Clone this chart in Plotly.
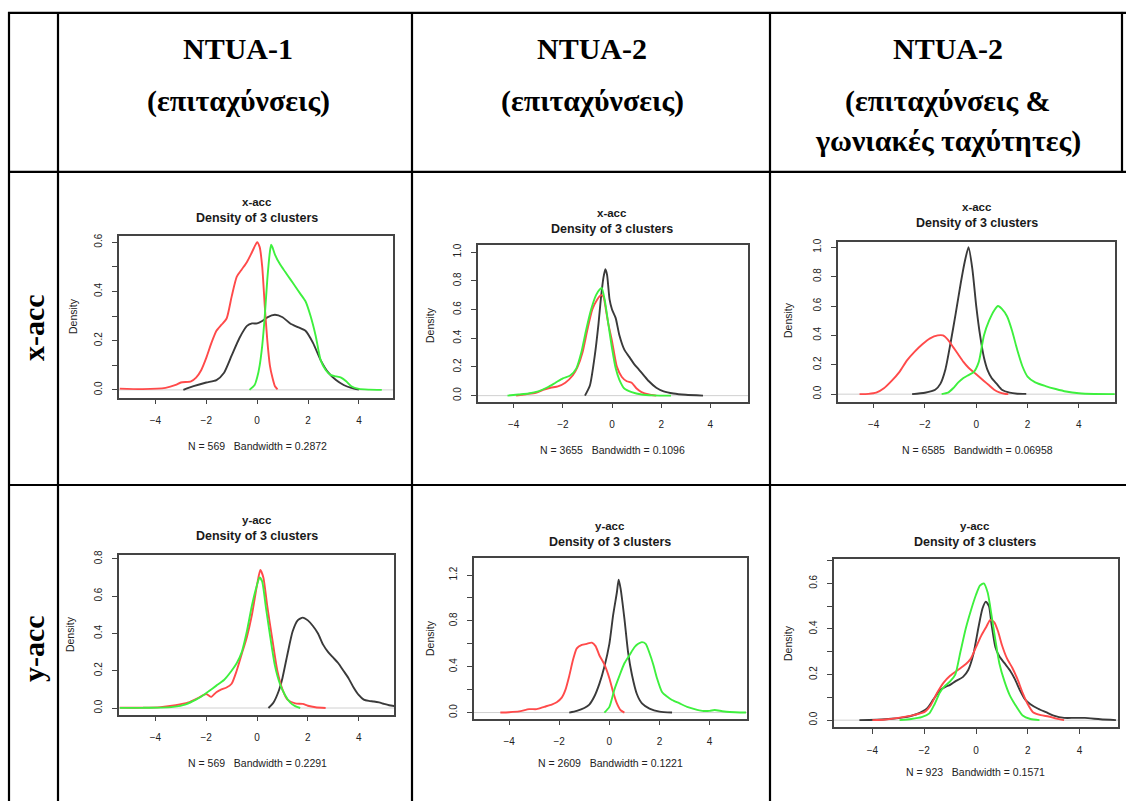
import plotly.graph_objects as go

W, H = 1126, 801

# ---------------- header / labels ----------------
col_headers = [
    ["NTUA-1", "(επιταχύνσεις)"],
    ["NTUA-2", "(επιταχύνσεις)"],
    ["NTUA-2", "(επιταχύνσεις &", "γωνιακές ταχύτητες)"],
]
row_labels = ["x-acc", "y-acc"]
panel_titles = ["x-acc", "x-acc", "x-acc", "y-acc", "y-acc", "y-acc"]
panel_subs = [
    "N = 569   Bandwidth = 0.2872",
    "N = 3655   Bandwidth = 0.1096",
    "N = 6585   Bandwidth = 0.06958",
    "N = 569   Bandwidth = 0.2291",
    "N = 2609   Bandwidth = 0.1221",
    "N = 923   Bandwidth = 0.1571",
]
x_ticks = [-4, -2, 0, 2, 4]
y_tickvals = [
    [0, 0.1, 0.2, 0.3, 0.4, 0.5, 0.6],
    [0, 0.2, 0.4, 0.6, 0.8, 1.0],
    [0, 0.2, 0.4, 0.6, 0.8, 1.0],
    [0, 0.2, 0.4, 0.6, 0.8],
    [0, 0.2, 0.4, 0.6, 0.8, 1.0, 1.2],
    [0, 0.1, 0.2, 0.3, 0.4, 0.5, 0.6, 0.7],
]
y_ticktext = [
    ["0.0", "", "0.2", "", "0.4", "", "0.6"],
    ["0.0", "0.2", "0.4", "0.6", "0.8", "1.0"],
    ["0.0", "0.2", "0.4", "0.6", "0.8", "1.0"],
    ["0.0", "0.2", "0.4", "0.6", "0.8"],
    ["0.0", "", "0.4", "", "0.8", "", "1.2"],
    ["0.0", "", "0.2", "", "0.4", "", "0.6", ""],
]

# ---------------- density data ----------------
# Panel 1: NTUA-1 x-acc
p1_red_x = [-5.4, -4.5, -3.6, -3.2, -3.0, -2.6, -2.4, -2.2, -2.0, -1.8, -1.6, -1.4, -1.2, -1.0, -0.8, -0.6, -0.4, -0.2, 0.0, 0.1, 0.2, 0.3, 0.4, 0.5, 0.6, 0.7, 0.8]
p1_red_y = [0.005, 0.003, 0.008, 0.02, 0.03, 0.035, 0.05, 0.08, 0.13, 0.19, 0.24, 0.265, 0.29, 0.38, 0.46, 0.49, 0.52, 0.56, 0.6, 0.58, 0.5, 0.34, 0.2, 0.1, 0.05, 0.015, 0.002]
p1_black_x = [-2.9, -2.5, -2.0, -1.6, -1.3, -1.0, -0.7, -0.4, -0.2, 0.0, 0.2, 0.4, 0.7, 1.0, 1.3, 1.6, 1.9, 2.2, 2.5, 2.8, 3.1, 3.4, 3.7, 4.0]
p1_black_y = [0.0, 0.015, 0.03, 0.04, 0.07, 0.14, 0.21, 0.26, 0.27, 0.27, 0.28, 0.295, 0.305, 0.295, 0.27, 0.255, 0.24, 0.19, 0.12, 0.07, 0.04, 0.02, 0.008, 0.001]
p1_green_x = [-0.3, -0.1, 0.0, 0.1, 0.2, 0.3, 0.4, 0.5, 0.55, 0.6, 0.7, 0.9, 1.1, 1.3, 1.5, 1.7, 1.9, 2.1, 2.3, 2.5, 2.7, 2.9, 3.1, 3.3, 3.5, 3.7, 4.0, 4.4, 4.9]
p1_green_y = [0.0, 0.02, 0.05, 0.1, 0.18, 0.3, 0.45, 0.56, 0.59, 0.58, 0.55, 0.51, 0.48, 0.45, 0.42, 0.39, 0.36, 0.3, 0.22, 0.12, 0.08, 0.06, 0.055, 0.05, 0.035, 0.015, 0.004, 0.001, 0.0]

# Panel 2: NTUA-2 x-acc
p2_red_x = [-3.9, -3.5, -3.1, -2.8, -2.5, -2.2, -1.9, -1.6, -1.4, -1.2, -1.0, -0.8, -0.6, -0.45, -0.35, -0.25, -0.15, 0.0, 0.2, 0.4, 0.6, 0.8, 1.0, 1.2, 1.5, 1.8]
p2_red_y = [0.0, 0.01, 0.02, 0.04, 0.055, 0.065, 0.09, 0.14, 0.2, 0.3, 0.46, 0.6, 0.67, 0.7, 0.69, 0.6, 0.5, 0.38, 0.2, 0.13, 0.1, 0.09, 0.05, 0.025, 0.008, 0.0]
p2_black_x = [-1.1, -0.9, -0.7, -0.55, -0.45, -0.35, -0.27, -0.2, -0.1, 0.0, 0.15, 0.3, 0.5, 0.7, 0.9, 1.1, 1.3, 1.5, 1.8, 2.1, 2.5, 3.0, 3.7]
p2_black_y = [0.0, 0.07, 0.28, 0.5, 0.68, 0.82, 0.88, 0.84, 0.67, 0.6, 0.54, 0.42, 0.32, 0.27, 0.22, 0.18, 0.14, 0.1, 0.055, 0.03, 0.015, 0.006, 0.0]
p2_green_x = [-4.25, -3.8, -3.4, -3.0, -2.6, -2.3, -2.0, -1.7, -1.45, -1.25, -1.05, -0.85, -0.65, -0.5, -0.42, -0.3, -0.15, 0.0, 0.15, 0.3, 0.5, 0.8, 1.2, 1.7, 2.4]
p2_green_y = [0.0, 0.008, 0.015, 0.03, 0.06, 0.09, 0.12, 0.14, 0.19, 0.3, 0.46, 0.6, 0.7, 0.74, 0.75, 0.67, 0.5, 0.33, 0.19, 0.11, 0.05, 0.025, 0.008, 0.002, 0.0]

# Panel 3: NTUA-2 (acc & gyro) x-acc
p3_red_x = [-4.55, -4.2, -3.9, -3.6, -3.3, -3.0, -2.7, -2.4, -2.1, -1.8, -1.5, -1.3, -1.1, -0.9, -0.7, -0.5, -0.3, -0.1, 0.1, 0.3, 0.5, 0.7, 0.9, 1.1, 1.25]
p3_red_y = [0.0, 0.002, 0.01, 0.04, 0.09, 0.15, 0.23, 0.29, 0.34, 0.38, 0.4, 0.4, 0.37, 0.32, 0.27, 0.22, 0.18, 0.15, 0.12, 0.09, 0.06, 0.03, 0.012, 0.003, 0.0]
p3_black_x = [-2.5, -2.0, -1.6, -1.4, -1.2, -1.0, -0.8, -0.6, -0.45, -0.3, -0.15, 0.0, 0.15, 0.3, 0.45, 0.6, 0.8, 1.0, 1.3, 1.6, 1.95]
p3_black_y = [0.0, 0.01, 0.03, 0.07, 0.17, 0.35, 0.55, 0.76, 0.9, 1.0, 0.85, 0.6, 0.4, 0.25, 0.16, 0.11, 0.07, 0.03, 0.01, 0.003, 0.002]
p3_green_x = [-1.35, -1.1, -0.9, -0.7, -0.5, -0.3, -0.1, 0.1, 0.3, 0.5, 0.7, 0.85, 1.0, 1.2, 1.4, 1.6, 1.8, 2.0, 2.3, 2.7, 3.1, 3.5, 4.0, 4.6, 5.4]
p3_green_y = [0.0, 0.01, 0.04, 0.08, 0.11, 0.13, 0.15, 0.22, 0.4, 0.5, 0.57, 0.6, 0.58, 0.53, 0.43, 0.3, 0.19, 0.12, 0.08, 0.055, 0.035, 0.018, 0.006, 0.001, 0.0]

# Panel 4: NTUA-1 y-acc
p4_red_x = [-5.4, -4.5, -3.8, -3.2, -2.7, -2.3, -2.0, -1.8, -1.6, -1.4, -1.2, -1.0, -0.8, -0.6, -0.4, -0.2, 0.0, 0.13, 0.25, 0.4, 0.6, 0.8, 1.0, 1.2, 1.5, 1.8, 2.0, 2.3, 2.7]
p4_red_y = [0.002, 0.002, 0.005, 0.015, 0.03, 0.055, 0.075, 0.06, 0.085, 0.1, 0.11, 0.13, 0.2, 0.29, 0.38, 0.5, 0.66, 0.74, 0.7, 0.55, 0.37, 0.2, 0.1, 0.045, 0.025, 0.022, 0.012, 0.004, 0.0]
p4_black_x = [0.45, 0.65, 0.85, 1.0, 1.2, 1.4, 1.6, 1.8, 2.0, 2.2, 2.4, 2.6, 2.8, 3.0, 3.2, 3.4, 3.6, 3.8, 4.0, 4.2, 4.4, 4.6, 4.8, 5.0, 5.2, 5.45]
p4_black_y = [0.0, 0.03, 0.09, 0.16, 0.29, 0.41, 0.47, 0.485, 0.47, 0.44, 0.4, 0.34, 0.3, 0.27, 0.24, 0.2, 0.16, 0.11, 0.07, 0.045, 0.038, 0.035, 0.03, 0.022, 0.015, 0.01]
p4_green_x = [-5.4, -4.5, -3.8, -3.3, -2.8, -2.4, -2.1, -1.9, -1.6, -1.3, -1.0, -0.8, -0.6, -0.4, -0.2, 0.0, 0.1, 0.2, 0.35, 0.5, 0.7, 0.9, 1.1, 1.3, 1.5, 1.7]
p4_green_y = [0.001, 0.001, 0.002, 0.006, 0.02, 0.045, 0.07, 0.09, 0.12, 0.15, 0.2, 0.24, 0.3, 0.41, 0.55, 0.66, 0.7, 0.68, 0.54, 0.4, 0.23, 0.13, 0.07, 0.03, 0.01, 0.0]

# Panel 5: NTUA-2 y-acc
p5_red_x = [-4.35, -4.0, -3.6, -3.2, -2.9, -2.6, -2.3, -2.1, -1.9, -1.75, -1.6, -1.45, -1.3, -1.1, -0.9, -0.7, -0.55, -0.4, -0.2, 0.0, 0.15, 0.3, 0.45, 0.6]
p5_red_y = [0.0, 0.003, 0.01, 0.03, 0.03, 0.05, 0.07, 0.09, 0.13, 0.2, 0.32, 0.46, 0.56, 0.59, 0.6, 0.61, 0.58, 0.5, 0.42, 0.3, 0.18, 0.08, 0.02, 0.0]
p5_black_x = [-1.6, -1.3, -1.0, -0.8, -0.6, -0.4, -0.2, 0.0, 0.15, 0.3, 0.37, 0.45, 0.6, 0.75, 0.9, 1.1, 1.3, 1.6, 2.0, 2.5]
p5_black_y = [0.0, 0.015, 0.04, 0.07, 0.14, 0.25, 0.4, 0.6, 0.85, 1.05, 1.16, 1.08, 0.82, 0.52, 0.33, 0.16, 0.08, 0.035, 0.008, 0.0]
p5_green_x = [-0.2, 0.0, 0.2, 0.4, 0.6, 0.8, 1.0, 1.15, 1.3, 1.45, 1.6, 1.75, 1.9, 2.1, 2.3, 2.5, 2.8, 3.1, 3.4, 3.7, 4.0, 4.2, 4.5, 4.8, 5.45]
p5_green_y = [0.0, 0.05, 0.2, 0.32, 0.43, 0.5, 0.57, 0.6, 0.615, 0.6, 0.52, 0.42, 0.3, 0.18, 0.14, 0.11, 0.08, 0.05, 0.03, 0.015, 0.015, 0.022, 0.012, 0.005, 0.0]

# Panel 6: NTUA-2 (acc & gyro) y-acc
p6_red_x = [-4.0, -3.5, -3.0, -2.5, -2.0, -1.75, -1.5, -1.25, -1.0, -0.7, -0.4, -0.2, 0.0, 0.2, 0.4, 0.55, 0.7, 0.85, 1.0, 1.2, 1.4, 1.6, 1.8, 2.0, 2.2, 2.5, 2.8, 3.1, 3.4]
p6_red_y = [0.0, 0.003, 0.01, 0.02, 0.035, 0.065, 0.12, 0.165, 0.195, 0.22, 0.245, 0.27, 0.32, 0.37, 0.41, 0.44, 0.43, 0.39, 0.33, 0.27, 0.23, 0.18, 0.12, 0.07, 0.035, 0.022, 0.016, 0.007, 0.0]
p6_black_x = [-4.5, -3.5, -2.8, -2.3, -1.9, -1.65, -1.4, -1.2, -1.0, -0.8, -0.5, -0.3, -0.1, 0.1, 0.25, 0.38, 0.5, 0.6, 0.75, 0.9, 1.1, 1.3, 1.5, 1.7, 1.9, 2.1, 2.4, 2.7, 3.0, 3.4, 3.8, 4.2, 4.8, 5.4]
p6_black_y = [0.0, 0.004, 0.012, 0.026, 0.05, 0.09, 0.13, 0.145, 0.155, 0.17, 0.19, 0.22, 0.29, 0.41, 0.49, 0.52, 0.5, 0.42, 0.32, 0.28, 0.25, 0.22, 0.18, 0.13, 0.09, 0.07, 0.05, 0.035, 0.02, 0.01, 0.01, 0.01, 0.004, 0.0]
p6_green_x = [-2.95, -2.5, -2.1, -1.8, -1.6, -1.4, -1.2, -1.0, -0.8, -0.6, -0.4, -0.2, 0.0, 0.15, 0.3, 0.45, 0.6, 0.75, 0.9, 1.1, 1.3, 1.5, 1.8, 2.1, 2.45]
p6_green_y = [0.0, 0.005, 0.013, 0.03, 0.07, 0.12, 0.15, 0.17, 0.2, 0.3, 0.4, 0.48, 0.55, 0.59, 0.6, 0.56, 0.46, 0.35, 0.25, 0.17, 0.11, 0.07, 0.02, 0.005, 0.0]

panels = [
    [(p1_black_x, p1_black_y), (p1_red_x, p1_red_y), (p1_green_x, p1_green_y)],
    [(p2_black_x, p2_black_y), (p2_red_x, p2_red_y), (p2_green_x, p2_green_y)],
    [(p3_black_x, p3_black_y), (p3_red_x, p3_red_y), (p3_green_x, p3_green_y)],
    [(p4_black_x, p4_black_y), (p4_red_x, p4_red_y), (p4_green_x, p4_green_y)],
    [(p5_black_x, p5_black_y), (p5_red_x, p5_red_y), (p5_green_x, p5_green_y)],
    [(p6_black_x, p6_black_y), (p6_red_x, p6_red_y), (p6_green_x, p6_green_y)],
]
series_colors = ["#3a3a3a", "#ff4a4a", "#3ef03e"]

# ---------------- layout geometry (pixels) ----------------
boxes = [  # x0, x1, y0(top), y1(bottom)
    (119, 393, 232, 395),
    (478, 748, 242, 399),
    (838, 1115, 238, 399),
    (119, 394, 553, 714),
    (474, 747, 556, 718),
    (834, 1118, 557, 727),
]
x_ranges = [(-5.43, 5.34), (-5.45, 5.53), (-5.39, 5.41), (-5.43, 5.39), (-5.40, 5.49), (-5.48, 5.48)]
y_ranges = [(-0.031, 0.627), (-0.041, 1.046), (-0.05, 1.039), (-0.035, 0.823), (-0.052, 1.353), (-0.032, 0.709)]
title_pos = [(257, 198), (612, 209), (977, 203), (257, 518), (610, 524), (975, 524)]
sub_pos = [(257, 444), (612, 448), (977, 448), (257, 763), (610, 763), (975, 772)]
ylab_pos = [(73, 313), (430, 322), (788, 317), (70, 633), (430, 637), (788, 642)]


def px(x):
    return x / W


def py(y):
    return 1 - y / H


fig = go.Figure()
annotations = []
shapes = []

for i, series in enumerate(panels):
    k = "" if i == 0 else str(i + 1)
    for (sx, sy), col in zip(series, series_colors):
        fig.add_trace(go.Scatter(
            x=sx, y=sy, mode="lines", xaxis="x" + k, yaxis="y" + k,
            line=dict(color=col, width=1.9, shape="spline", smoothing=0.6),
            showlegend=False, hoverinfo="skip"))
    x0, x1, yt, yb = boxes[i]
    axfont = dict(family="Liberation Sans, Arial, sans-serif", size=10, color="#222")
    fig.layout["xaxis" + k] = dict(
        domain=[px(x0), px(x1)], range=list(x_ranges[i]), anchor="y" + k,
        tickvals=x_ticks, ticks="outside", ticklen=5, tickwidth=1.2, tickcolor="#444",
        showline=True, linecolor="#444", linewidth=1.8, mirror=True,
        showgrid=False, zeroline=False, tickfont=axfont, ticklabelstandoff=8)
    fig.layout["yaxis" + k] = dict(
        domain=[py(yb), py(yt)], range=list(y_ranges[i]), anchor="x" + k,
        tickvals=y_tickvals[i], ticktext=y_ticktext[i], tickangle=-90,
        ticks="outside", ticklen=5, tickwidth=1.2, tickcolor="#444",
        showline=True, linecolor="#444", linewidth=1.8, mirror=True,
        showgrid=False, zeroline=False, tickfont=axfont, ticklabelstandoff=6)
    # zero reference line as in R's plot.density
    shapes.append(dict(type="line", xref="x" + k + " domain", yref="y" + k,
                       x0=0, x1=1, y0=0, y1=0, line=dict(color="#d0d0d0", width=1), layer="below"))
    tx, ty = title_pos[i]
    annotations.append(dict(x=px(tx), y=py(ty), xref="paper", yref="paper", showarrow=False,
                            text="<b>" + panel_titles[i] + "</b>", xanchor="center", yanchor="middle",
                            font=dict(family="Liberation Sans, Arial, sans-serif", size=11.5, color="#1a1a1a")))
    annotations.append(dict(x=px(tx), y=py(ty + 16), xref="paper", yref="paper", showarrow=False,
                            text="<b>Density of 3 clusters</b>", xanchor="center", yanchor="middle",
                            font=dict(family="Liberation Sans, Arial, sans-serif", size=12.5, color="#1a1a1a")))
    sx_, sy_ = sub_pos[i]
    annotations.append(dict(x=px(sx_), y=py(sy_), xref="paper", yref="paper", showarrow=False,
                            text=panel_subs[i], xanchor="center", yanchor="middle",
                            font=dict(family="Liberation Sans, Arial, sans-serif", size=10.5, color="#222")))
    lx, ly = ylab_pos[i]
    annotations.append(dict(x=px(lx), y=py(ly), xref="paper", yref="paper", showarrow=False,
                            text="Density", textangle=-90, xanchor="center", yanchor="middle",
                            font=dict(family="Liberation Sans, Arial, sans-serif", size=10.5, color="#222")))

# ---------------- table header text ----------------
serif = dict(family="Liberation Serif, Times New Roman, serif", size=30, color="#000")
col_centers = [238, 592, 948]
line_ys = [44, 97, 137]
for cx, lines in zip(col_centers, col_headers):
    for j, t in enumerate(lines):
        annotations.append(dict(x=px(cx), y=py(line_ys[j]), xref="paper", yref="paper", showarrow=False,
                                text="<b>" + t + "</b>", xanchor="center", yanchor="middle", font=serif))
for lab, cy in zip(row_labels, [325, 648]):
    annotations.append(dict(x=px(34), y=py(cy), xref="paper", yref="paper", showarrow=False,
                            text="<b>" + lab + "</b>", textangle=-90, xanchor="center", yanchor="middle",
                            font=serif))

# ---------------- table borders ----------------
def hline(y, x0, x1):
    shapes.append(dict(type="line", xref="paper", yref="paper", x0=px(x0), x1=px(x1), y0=py(y), y1=py(y),
                       line=dict(color="#000", width=2.2)))


def vline(x, y0, y1):
    shapes.append(dict(type="line", xref="paper", yref="paper", x0=px(x), x1=px(x), y0=py(y0), y1=py(y1),
                       line=dict(color="#000", width=2.2)))


hline(8, 8, 1126)
hline(168, 8, 1126)
hline(483, 8, 1126)
vline(9, 7, 801)
vline(58, 7, 801)
vline(412, 7, 801)
vline(770, 7, 801)
vline(1122, 7, 168)

fig.update_layout(width=W, height=H, margin=dict(l=0, r=0, t=0, b=0),
                  paper_bgcolor="white", plot_bgcolor="white",
                  annotations=annotations, shapes=shapes)

fig.write_html("out.html", config={"displayModeBar": False},
               post_script="document.body.style.margin='0px';document.body.style.padding='0px';")
